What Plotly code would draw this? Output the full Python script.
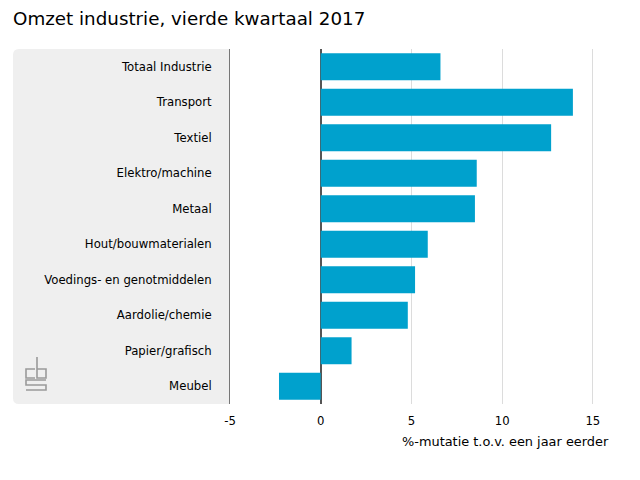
import plotly.graph_objects as go

# Omzet industrie Q4 2017, %-mutatie t.o.v. een jaar eerder
categories = [
    "Totaal Industrie",
    "Transport",
    "Textiel",
    "Elektro/machine",
    "Metaal",
    "Hout/bouwmaterialen",
    "Voedings- en genotmiddelen",
    "Aardolie/chemie",
    "Papier/grafisch",
    "Meubel",
]
values = [6.6, 13.9, 12.7, 8.6, 8.5, 5.9, 5.2, 4.8, 1.7, -2.3]

x_ticks = [-5, 0, 5, 10, 15]
x_ticktext = ["-5", "0", "5", "10", "15"]

BAR_COLOR = "#00a1cd"
FONT = "DejaVu Sans"

fig = go.Figure()
fig.add_trace(go.Bar(
    y=categories,
    x=values,
    orientation="h",
    marker=dict(color=BAR_COLOR, line=dict(width=0)),
    hoverinfo="x+y",
))

# grijs paneel achter de labels (afgeronde linkerhoeken)
x0, r_x, r_y = -0.5696, 0.016, 0.017
panel = (
    f"M 0,0 L {x0 + r_x},0 Q {x0},0 {x0},{r_y} "
    f"L {x0},{1 - r_y} Q {x0},1 {x0 + r_x},1 L 0,1 Z"
)


# eenvoudig cbs-logo (pixels t.o.v. linksonder plotgebied)
def logo_path(ox, oy):
    parts = [
        [(9, 21), (0, 21), (0, 12), (9, 12)],            # c
        [(11, 33), (11, 12), (20, 12), (20, 21), (11, 21)],  # b
        [(20, 10), (0, 10), (0, 5), (20, 5), (20, 0), (0, 0)],  # s
    ]
    d = ""
    for pts in parts:
        d += "M " + " L ".join(f"{ox + px},{oy + py}" for px, py in pts) + " "
    return d.strip()


logo = dict(
    type="path", path=logo_path(-204, 14),
    xref="paper", yref="paper", xanchor=0, yanchor=0,
    xsizemode="pixel", ysizemode="pixel",
    line=dict(color="#9a9a9a", width=1.6), layer="above",
)

fig.update_layout(
    width=632,
    height=472,
    margin=dict(l=222, r=29, t=41, b=76),
    paper_bgcolor="white",
    plot_bgcolor="white",
    font=dict(family=FONT, size=11.7, color="#000"),
    title=dict(
        text="Omzet industrie, vierde kwartaal 2017",
        x=5 / 632, xanchor="left",
        y=1 - 11 / 472, yanchor="middle",
        font=dict(size=18.3, color="#000"),
    ),
    bargap=0.24,
    showlegend=False,
    shapes=[
        dict(
            type="path", path=panel, xref="paper", yref="paper",
            fillcolor="#efefef", line=dict(width=0), layer="below",
        ),
        logo,
    ],
    annotations=[dict(
        text="%-mutatie t.o.v. een jaar eerder",
        xref="paper", yref="paper", x=1.0, y=-0.107,
        xanchor="right", yanchor="middle", showarrow=False,
        font=dict(size=12.9),
    )],
    xaxis=dict(
        range=[-5, 16],
        tickvals=x_ticks,
        ticktext=x_ticktext,
        showgrid=True,
        gridcolor="#dcdcdc",
        gridwidth=1,
        zeroline=True,
        zerolinecolor="#555",
        zerolinewidth=2,
        ticks="",
        ticklabelstandoff=8,
        tickfont=dict(size=11.7),
        fixedrange=True,
    ),
    yaxis=dict(
        autorange="reversed",
        showline=True,
        linecolor="#777",
        linewidth=1,
        showgrid=False,
        ticks="",
        ticklabelstandoff=15,
        tickfont=dict(size=11.7),
        fixedrange=True,
    ),
)

fig.write_html("out.html")
